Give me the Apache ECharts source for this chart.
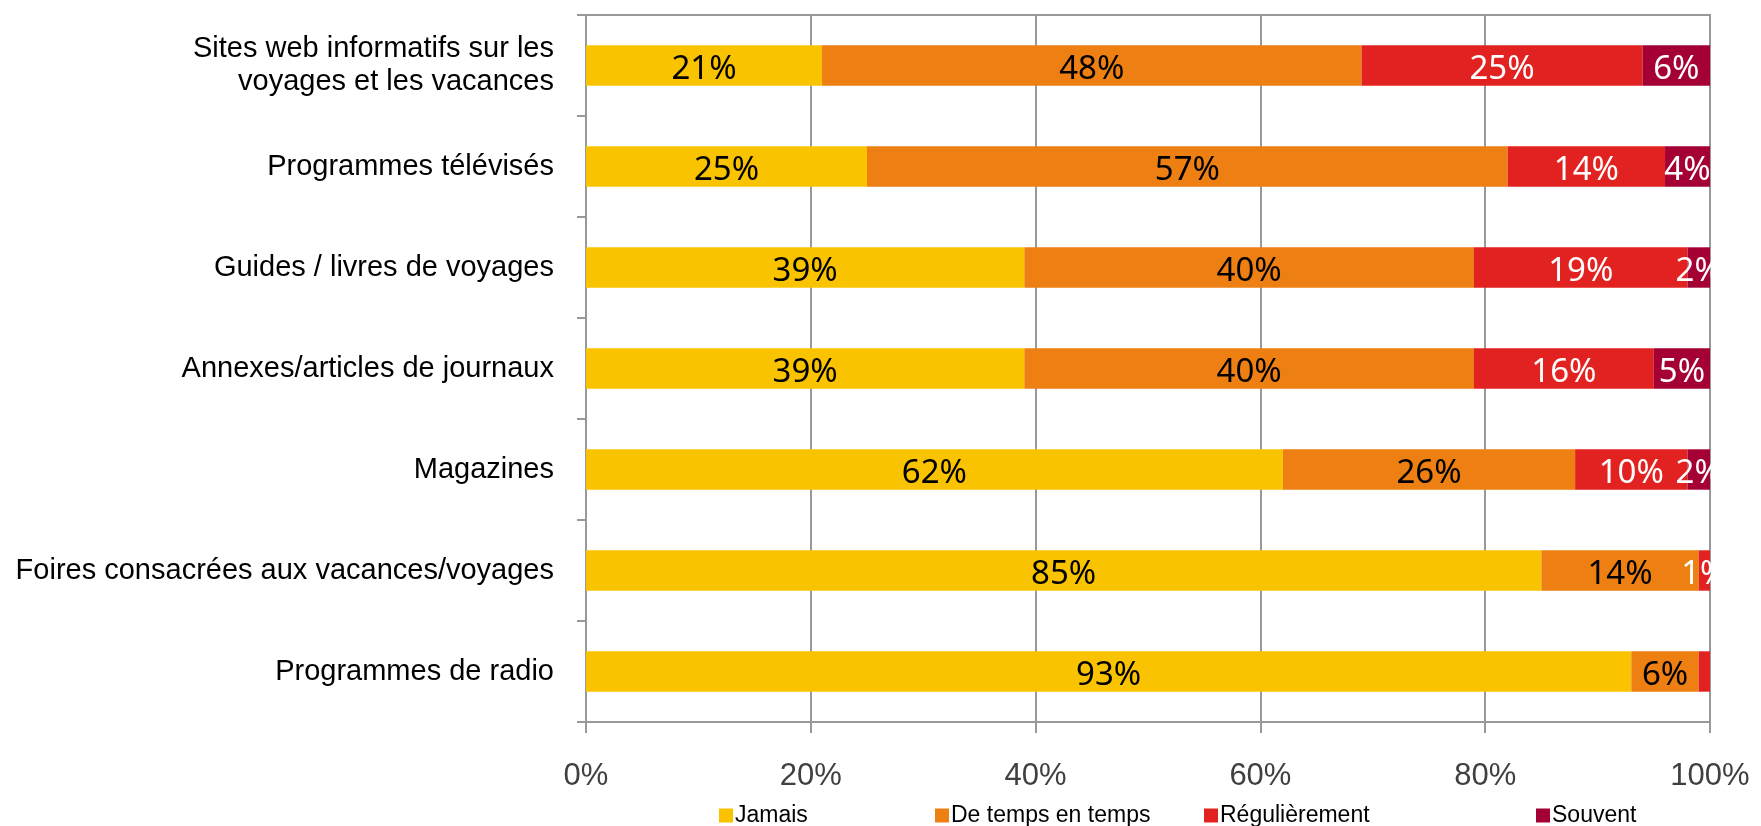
<!DOCTYPE html>
<html>
<head>
<meta charset="utf-8">
<script src="https://cdn.jsdelivr.net/npm/echarts@6/dist/echarts.min.js"></script>
<style>
  html, body { margin: 0; padding: 0; background: #fff; }
  #chart { width: 1761px; height: 826px; }
</style>
</head>
<body>
<div id="chart"></div>
<script>
  // categories, top to bottom
  var categories = [
    'Sites web informatifs sur les\nvoyages et les vacances',
    'Programmes télévisés',
    'Guides / livres de voyages',
    'Annexes/articles de journaux',
    'Magazines',
    'Foires consacrées aux vacances/voyages',
    'Programmes de radio'
  ]
  var seriesNames = ['Jamais', 'De temps en temps', 'Régulièrement', 'Souvent']
  var jamais = [21, 25, 39, 39, 62, 85, 93]
  var deTempsEnTemps = [48, 57, 40, 40, 26, 14, 6]
  var regulierement = [25, 14, 19, 16, 10, 1, 1]
  var souvent = [6, 4, 2, 5, 2, 0, 0]
  var xTicks = [0, 20, 40, 60, 80, 100]

  var colors = ['#FAC300', '#EE7F12', '#E22220', '#A50034']
  var labelColors = ['#000', '#000', '#fff', '#fff']
  var values = [jamais, deTempsEnTemps, regulierement, souvent]
  var gridColor = '#999999'
  var legendLeft = [714, 930, 1199, 1531]

  var series = []
  values.forEach(function (vals, i) {
    series.push({
      name: seriesNames[i],
      type: 'bar',
      stack: 'total',
      barWidth: '40%',
      itemStyle: { color: colors[i] },
      label: {
        show: true,
        position: 'inside',
        offset: [0, 4],
        color: labelColors[i],
        fontFamily: 'Noto Sans',
        fontSize: 33,
        formatter: function (p) {
          // the last row's tiny red slice has no label in the original
          if (!p.value || (i === 2 && p.dataIndex === 6)) return ''
          return p.value + '%'
        }
      },
      data: vals
    })
  })

  var legends = seriesNames.map(function (name, i) {
    return {
      data: [name],
      left: legendLeft[i],
      top: 799,
      icon: 'rect',
      itemWidth: 14,
      itemHeight: 14,
      itemGap: 0,
      selectedMode: false,
      textStyle: {
        fontFamily: 'Liberation Sans',
        fontSize: 23,
        color: '#000',
        padding: [0, 0, 0, -3]
      }
    }
  })

  var option = {
    backgroundColor: '#fff',
    animation: false,
    legend: legends,
    grid: {
      left: 586,
      right: 51,
      top: 15,
      bottom: 104,
      show: true,
      borderColor: gridColor,
      borderWidth: 2
    },
    xAxis: {
      type: 'value',
      min: xTicks[0],
      max: xTicks[xTicks.length - 1],
      interval: 20,
      axisLine: { show: true, lineStyle: { color: gridColor, width: 2 } },
      axisTick: { show: true, length: 11, lineStyle: { color: gridColor, width: 2 } },
      splitLine: { show: true, lineStyle: { color: gridColor, width: 2 } },
      axisLabel: {
        margin: 39,
        fontFamily: 'Liberation Sans',
        fontSize: 31,
        color: '#404040',
        formatter: '{value}%'
      }
    },
    yAxis: {
      type: 'category',
      inverse: true,
      data: categories,
      axisLine: { show: true, lineStyle: { color: gridColor, width: 2 } },
      axisTick: { show: true, length: 9, lineStyle: { color: gridColor, width: 2 } },
      axisLabel: {
        margin: 32,
        fontFamily: 'Liberation Sans',
        fontSize: 29,
        lineHeight: 33,
        color: '#000',
        align: 'right'
      }
    },
    series: series
  }

  var myChart = echarts.init(document.getElementById('chart'))
  myChart.setOption(option)
  window.addEventListener('resize', function () {
    myChart.resize()
  })
</script>
</body>
</html>
